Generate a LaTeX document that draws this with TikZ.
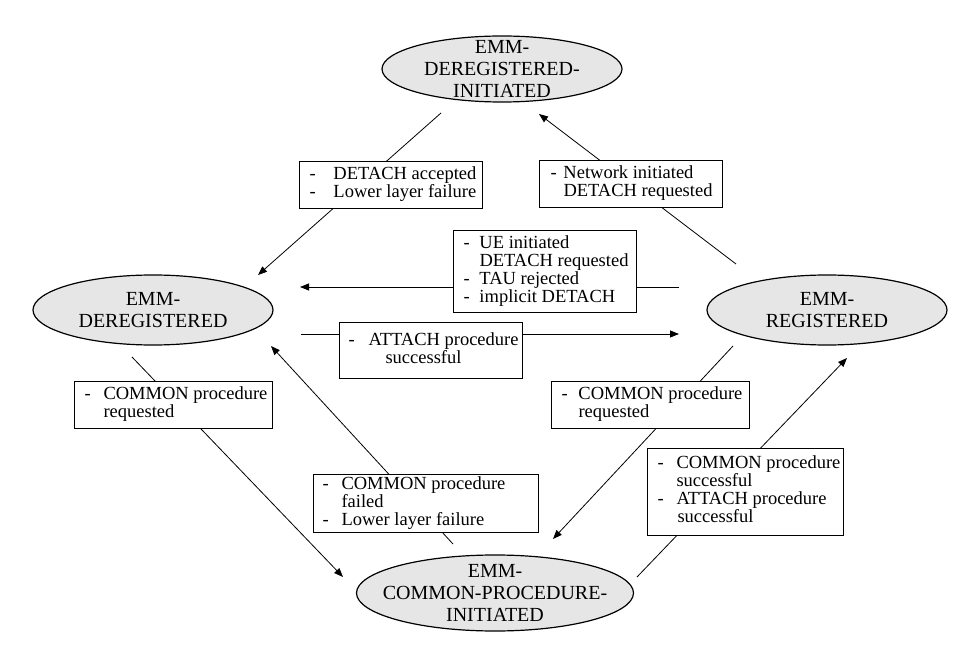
\documentclass[tikz,border=0pt]{standalone}
\usepackage{fontspec}
\setmainfont{Liberation Serif}
\usetikzlibrary{arrows.meta,shapes.geometric}
\definecolor{stfill}{HTML}{E6E6E6}
\newcommand{\lbdash}[1]{\makebox[#1pt][l]{-}}
\newcommand{\indd}[1]{\hspace*{#1pt}}
\newcommand{\lbltext}[2]{\makebox[#1pt][l]{\begin{tabular}{@{}l@{}}#2\end{tabular}}}
\begin{document}
\begin{tikzpicture}[x=1pt,y=-1pt,
  state/.style={ellipse, draw, line width=1.2pt, fill=stfill, inner sep=0pt},
  sttext/.style={align=center, font=\fontsize{20}{22}\selectfont, inner sep=0pt},
  lbl/.style={draw, fill=white, line width=1pt, anchor=north west, inner xsep=#1, inner ysep=0pt, font=\fontsize{18.5}{17}\selectfont},
  conn/.style={line width=0.8pt, -{Triangle[length=9pt,width=7pt]}}]
\useasboundingbox (0,0) rectangle (980,652);

% states
\node[state, minimum width=240pt, minimum height=66pt,
  label={[sttext]center:EMM-\\DEREGISTERED-\\INITIATED}] (T) at (502,69) {};
\node[state, minimum width=240pt, minimum height=70pt,
  label={[sttext]center:EMM-\\DEREGISTERED}] (L) at (153,310) {};
\node[state, minimum width=240pt, minimum height=70pt,
  label={[sttext]center:EMM-\\REGISTERED}] (R) at (827,310) {};
\node[state, minimum width=277pt, minimum height=76pt,
  label={[sttext]center:EMM-\\COMMON-PROCEDURE-\\INITIATED}] (B) at (495,593) {};

% connector end points
\coordinate (c1s) at (441,113); \coordinate (c1e) at (258,275);
\coordinate (c2s) at (736,264); \coordinate (c2e) at (539,114);
\coordinate (c3s) at (679,287); \coordinate (c3e) at (300,287);
\coordinate (c4s) at (301,334); \coordinate (c4e) at (679,334);
\coordinate (c5s) at (132,357); \coordinate (c5e) at (343,577);
\coordinate (c6s) at (453,544); \coordinate (c6e) at (271,346);
\coordinate (c7s) at (733,346); \coordinate (c7e) at (553,539);
\coordinate (c8s) at (637,577); \coordinate (c8e) at (847,358);

\draw[conn] (c1s) -- (c1e);
\draw[conn] (c2s) -- (c2e);
\draw[conn] (c3s) -- (c3e);
\draw[conn] (c4s) -- (c4e);
\draw[conn] (c5s) -- (c5e);
\draw[conn] (c6s) -- (c6e);
\draw[conn] (c7s) -- (c7e);
\draw[conn] (c8s) -- (c8e);

% labels
\node[lbl=10pt, minimum width=183pt, minimum height=47pt] (bA) at (299,161)
  {\lbltext{163}{\lbdash{24}DETACH accepted\\ \lbdash{24}Lower layer failure}};
\node[lbl=11pt, minimum width=183pt, minimum height=47pt] (bB) at (539,160)
  {\lbltext{161}{\lbdash{13}Network initiated\\ \indd{13}DETACH requested}};
\node[lbl=10pt, minimum width=183pt, minimum height=82pt] (bC) at (453,230)
  {\lbltext{163}{\lbdash{16}UE initiated\\ \indd{16}DETACH requested\\ \lbdash{16}TAU rejected\\ \lbdash{16}implicit DETACH}};
\node[lbl=9pt, minimum width=183pt, minimum height=56pt] (bD) at (339,322)
  {\lbltext{165}{\lbdash{20}ATTACH procedure\\ \indd{37}successful}};
\node[lbl=10pt, minimum width=198pt, minimum height=47pt] (bE) at (74,381)
  {\lbltext{178}{\lbdash{19}COMMON procedure\\ \indd{19}requested}};
\node[lbl=9pt, minimum width=225pt, minimum height=58pt] (bF) at (313,474)
  {\lbltext{207}{\lbdash{19}COMMON procedure\\ \indd{19}failed\\ \lbdash{19}Lower layer failure}};
\node[lbl=10pt, minimum width=198pt, minimum height=47pt] (bG) at (551,381)
  {\lbltext{178}{\lbdash{17}COMMON procedure\\ \indd{17}requested}};
\node[lbl=10pt, minimum width=196pt, minimum height=87pt] (bH) at (647,448)
  {\lbltext{176}{\lbdash{19}COMMON procedure\\ \indd{19}successful\\ \lbdash{19}ATTACH procedure\\ \indd{20}successful}};
\end{tikzpicture}
\end{document}
